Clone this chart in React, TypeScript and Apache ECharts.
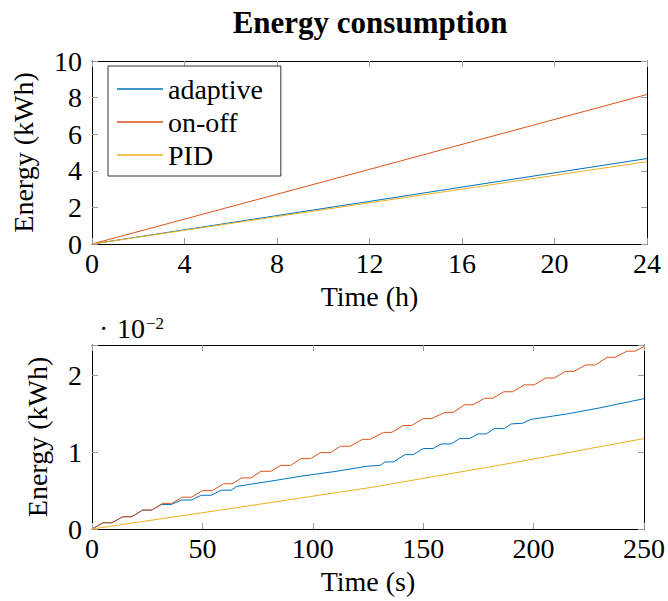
import React, { useEffect, useRef } from "react";
import * as echarts from "echarts";

const FONT = "Liberation Serif";
const TITLE = "Energy consumption";
const SERIES_NAMES = ["adaptive", "on-off", "PID"];
const COLORS = ["#0072BD", "#D95319", "#EDB120"];

// Top panel: time in hours, energy in kWh
const dayHours = [0, 12, 24];
const dayAdaptive = [0, 2.33, 4.67];
const dayOnOff = [0, 4.08, 8.17];
const dayPID = [0, 2.25, 4.5];
const dayXTicks = { min: 0, max: 24, interval: 4 };
const dayYTicks = { min: 0, max: 10, interval: 2 };

// Bottom panel: time in seconds, energy in units of 1e-2 kWh
const secAdaptive: [number, number][] = [
  [0, 0], [5, 0.082], [9, 0.082], [14, 0.16], [18, 0.16], [23, 0.247], [27, 0.247],
  [31.5, 0.32], [36, 0.32], [40.5, 0.378], [45, 0.378], [49.5, 0.44], [54, 0.44],
  [58.5, 0.506], [63, 0.506], [65.5, 0.555], [80, 0.62], [95, 0.69], [110, 0.75],
  [125, 0.82], [130.5, 0.83], [132.7, 0.875], [136.5, 0.875], [141.7, 0.97], [145.5, 0.97],
  [150, 1.05], [154.5, 1.05], [158.2, 1.11], [162.7, 1.11], [166.5, 1.18], [171, 1.18],
  [174.8, 1.24], [178.5, 1.24], [182.3, 1.31], [186.8, 1.31], [189.8, 1.37], [195, 1.38],
  [198.8, 1.43], [215, 1.5], [230, 1.58], [250, 1.7],
];
const secOnOff: [number, number][] = [
  [0, 0], [5, 0.082], [9, 0.082], [14, 0.16], [18, 0.16], [23, 0.247], [27, 0.247],
  [32, 0.334], [36, 0.334], [41, 0.415], [45, 0.415], [50, 0.5], [54.5, 0.5],
  [59.5, 0.59], [63.5, 0.59], [67.8, 0.666], [72, 0.666], [76.5, 0.753], [81, 0.753],
  [85.5, 0.83], [90, 0.83], [94.5, 0.918], [99, 0.918], [103.5, 0.996], [108, 0.996],
  [112.5, 1.08], [117, 1.08], [122.5, 1.17], [126, 1.17], [132, 1.26], [135.7, 1.26],
  [141, 1.35], [144.7, 1.35], [150, 1.44], [153.7, 1.44], [159.8, 1.52], [163.5, 1.52],
  [168.8, 1.62], [172.5, 1.62], [177.8, 1.705], [181.5, 1.705], [186.5, 1.79], [190.5, 1.79],
  [195.8, 1.88], [200.3, 1.88], [205.5, 1.97], [209.3, 1.97], [214.5, 2.056], [218.3, 2.056],
  [223.6, 2.14], [228, 2.14], [233.3, 2.24], [237, 2.24], [242.3, 2.32], [246, 2.32],
  [250, 2.38],
];
const secPID: [number, number][] = [
  [0, 0], [63.5, 0.27], [127, 0.545], [190, 0.86], [250, 1.18],
];
const secXTicks = { min: 0, max: 250, interval: 50 };
const secYTicks = { min: 0, max: 2.4, interval: 1 };

const TICK_COLOR = "#9a9a9a";

function xAxes(gridIndex: number, t: any, name: string) {
  const base = {
    gridIndex,
    type: "value",
    min: t.min,
    max: t.max,
    interval: t.interval,
    splitLine: { show: false },
    axisLine: { show: true, onZero: false, lineStyle: { color: "#000", width: 1 } },
    axisTick: { show: true, inside: true, length: 6, lineStyle: { color: TICK_COLOR, width: 1 } },
  };
  return [
    {
      ...base,
      position: "bottom",
      axisLabel: { show: true, margin: 5, fontFamily: FONT, fontSize: 28, color: "#000" },
      name,
      nameLocation: "middle",
      nameGap: 38,
      nameTextStyle: { fontFamily: FONT, fontSize: 28, color: "#000" },
    },
    { ...base, position: "top", axisLabel: { show: false } },
  ];
}

function yAxes(gridIndex: number, t: any, name: string, nameGap: number, intOnly: boolean) {
  const base = {
    gridIndex,
    type: "value",
    min: t.min,
    max: t.max,
    interval: t.interval,
    splitLine: { show: false },
    axisLine: { show: true, onZero: false, lineStyle: { color: "#000", width: 1 } },
    axisTick: { show: true, inside: true, length: 6, lineStyle: { color: TICK_COLOR, width: 1 } },
  };
  return [
    {
      ...base,
      position: "left",
      axisLabel: {
        show: true,
        margin: 10,
        fontFamily: FONT,
        fontSize: 28,
        color: "#000",
        formatter: (v: number) => (intOnly && !Number.isInteger(v) ? "" : String(v)),
      },
      name,
      nameLocation: "middle",
      nameGap,
      nameTextStyle: { fontFamily: FONT, fontSize: 28, color: "#000" },
    },
    { ...base, position: "right", axisLabel: { show: false } },
  ];
}

export default function App() {
  const ref = useRef<HTMLDivElement>(null);
  useEffect(() => {
    if (!ref.current) return;
    const chart = echarts.init(ref.current, null, { renderer: "svg" });
    const dayData = [dayAdaptive, dayOnOff, dayPID];
    const secData = [secAdaptive, secOnOff, secPID];
    const series: any[] = [];
    SERIES_NAMES.forEach((n, i) => {
      series.push({
        name: n,
        type: "line",
        xAxisIndex: 0,
        yAxisIndex: 0,
        data: dayHours.map((h, k) => [h, dayData[i][k]]),
        symbol: "none",
        lineStyle: { width: 1, color: COLORS[i] },
        itemStyle: { color: COLORS[i] },
      });
    });
    SERIES_NAMES.forEach((n, i) => {
      series.push({
        name: n,
        type: "line",
        xAxisIndex: 2,
        yAxisIndex: 2,
        data: secData[i],
        symbol: "none",
        lineStyle: { width: 1, color: COLORS[i] },
        itemStyle: { color: COLORS[i] },
      });
    });
    chart.setOption({
      animation: false,
      backgroundColor: "#fff",
      textStyle: { fontFamily: FONT },
      grid: [
        { left: 92, top: 61, width: 555, height: 183 },
        { left: 92, top: 345, width: 555, height: 184 },
      ],
      xAxis: [...xAxes(0, dayXTicks, "Time (h)"), ...xAxes(1, secXTicks, "Time (s)")],
      yAxis: [
        ...yAxes(0, dayYTicks, "Energy (kWh)", 55, false),
        ...yAxes(1, secYTicks, "Energy (kWh)", 41, true),
      ],
      legend: {
        show: true,
        orient: "vertical",
        left: 108,
        top: 66,
        data: SERIES_NAMES,
        icon: "rect",
        itemWidth: 46,
        itemHeight: 1.5,
        itemGap: 3,
        padding: [8, 18, 6, 9],
        borderColor: "#333",
        borderWidth: 1,
        borderRadius: 0,
        backgroundColor: "#fff",
        textStyle: { fontFamily: FONT, fontSize: 28, color: "#000", lineHeight: 30 },
      },
      graphic: [
        {
          type: "text",
          x: 370,
          y: 22,
          style: {
            text: TITLE,
            fontFamily: FONT,
            fontSize: 31,
            fontWeight: "bold",
            fill: "#000",
            align: "center",
            verticalAlign: "middle",
          },
        },
        {
          type: "text",
          x: 99,
          y: 328,
          style: { text: "·", fontFamily: FONT, fontSize: 28, fill: "#000", align: "left", verticalAlign: "middle" },
        },
        {
          type: "text",
          x: 117,
          y: 328,
          style: { text: "10", fontFamily: FONT, fontSize: 28, fill: "#000", align: "left", verticalAlign: "middle" },
        },
        {
          type: "text",
          x: 146,
          y: 323,
          style: { text: "−2", fontFamily: FONT, fontSize: 17, fill: "#000", align: "left", verticalAlign: "middle" },
        },
      ],
      series,
    });
    return () => chart.dispose();
  }, []);
  return (
    <div
      ref={ref}
      style={{ position: "fixed", left: 0, top: 0, width: 668, height: 601, background: "#fff" }}
    />
  );
}
